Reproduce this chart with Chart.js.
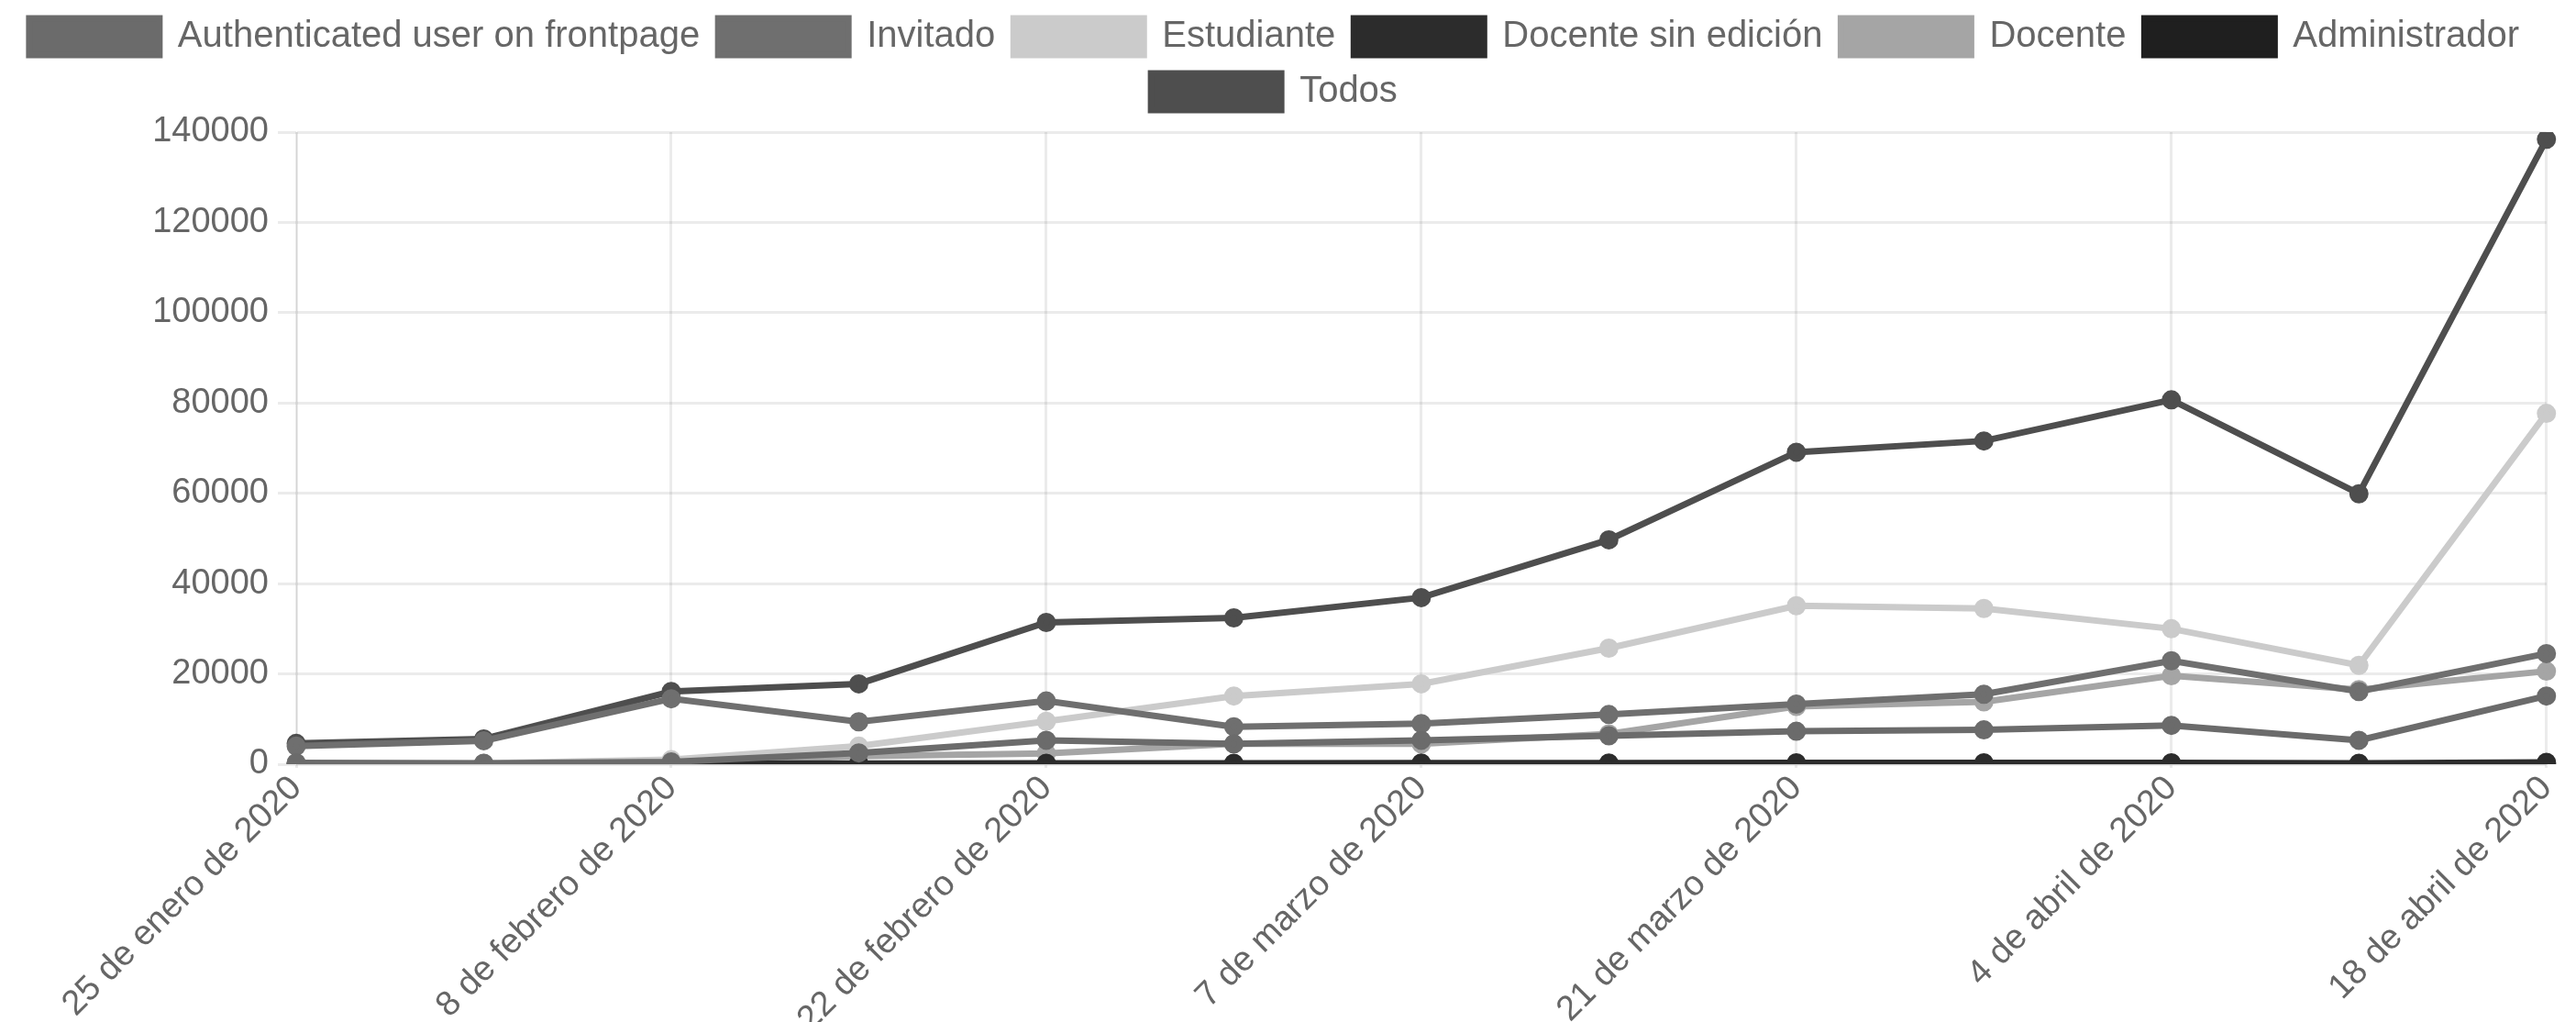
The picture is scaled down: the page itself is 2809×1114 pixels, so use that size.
<!DOCTYPE html>
<html lang="es">
<head>
    <meta charset="UTF-8">
    <title>Accesos por rol</title>
    <script src="https://cdn.jsdelivr.net/npm/chart.js"></script>
    <style>
        body { margin: 0; background: #fff; overflow: hidden; }
        #grafico { display: block; }
    </style>
</head>
<body>
    <canvas id="grafico" width="2809" height="1114"></canvas>

<script>
    // semanas (eje x)
    const fechas = [
        '25 de enero de 2020', '1 de febrero de 2020', '8 de febrero de 2020',
        '15 de febrero de 2020', '22 de febrero de 2020', '29 de febrero de 2020',
        '7 de marzo de 2020', '14 de marzo de 2020', '21 de marzo de 2020',
        '28 de marzo de 2020', '4 de abril de 2020', '11 de abril de 2020',
        '18 de abril de 2020'
    ];

    // valores
    const autenticado = [300, 200, 500, 2500, 5300, 4500, 5300, 6300, 7300, 7600, 8600, 5300, 15100];
    const invitado = [4000, 5200, 14500, 9400, 14000, 8300, 9000, 11000, 13300, 15500, 22900, 16100, 24500];
    const estudiante = [200, 200, 1000, 4000, 9500, 15100, 17800, 25700, 35100, 34500, 30000, 21900, 77700];
    const docenteSinEdicion = [100, 100, 100, 150, 200, 200, 250, 250, 300, 300, 300, 200, 400];
    const docente = [100, 100, 200, 1800, 2400, 4500, 4500, 6700, 12800, 13800, 19600, 16500, 20600];
    const administrador = [20, 20, 30, 30, 40, 40, 40, 50, 50, 50, 50, 40, 60];
    const todos = [4600, 5600, 16100, 17800, 31400, 32400, 36900, 49700, 69100, 71600, 80700, 59900, 138400];

    const ticksY = [0, 20000, 40000, 60000, 80000, 100000, 120000, 140000];

    function serie(nombre, valores, color) {
        return {
            label: nombre,
            data: valores,
            borderColor: color,
            backgroundColor: color,
            pointBackgroundColor: color,
            pointBorderColor: color,
            borderWidth: 7,
            pointRadius: 7,
            tension: 0,
            fill: false
        };
    }

    const data = {
        labels: fechas,
        datasets: [
            serie('Authenticated user on frontpage', autenticado, '#6b6b6b'),
            serie('Invitado', invitado, '#6f6f6f'),
            serie('Estudiante', estudiante, '#cbcbcb'),
            serie('Docente sin edición', docenteSinEdicion, '#2c2c2c'),
            serie('Docente', docente, '#a5a5a5'),
            serie('Administrador', administrador, '#1f1f1f'),
            serie('Todos', todos, '#4e4e4e')
        ]
    };

    Chart.defaults.font.family = '"Liberation Sans", Arial, sans-serif';
    Chart.defaults.font.size = 38;
    Chart.defaults.color = '#666';

    // un poco de aire entre la leyenda y el grafico
    const espacioLeyenda = {
        id: 'espacioLeyenda',
        beforeInit(chart) {
            const fitOriginal = chart.legend.fit;
            chart.legend.fit = function () {
                fitOriginal.bind(chart.legend)();
                this.height += 14;
            };
        }
    };

    const config = {
        type: 'line',
        data: data,
        plugins: [espacioLeyenda],
        options: {
            responsive: false,
            animation: false,
            layout: { padding: { left: 0, right: 30, top: 0, bottom: 0 } },
            plugins: {
                legend: {
                    position: 'top',
                    labels: {
                        boxWidth: 142,
                        boxHeight: 40,
                        padding: 20,
                        font: { size: 40 }
                    }
                },
                tooltip: { enabled: false }
            },
            scales: {
                x: {
                    grid: { color: 'rgba(0,0,0,0.08)', lineWidth: 3, tickLength: 4 },
                    ticks: {
                        autoSkip: false,
                        maxRotation: 45,
                        minRotation: 45,
                        padding: 0,
                        // una etiqueta de cada dos, como en el original
                        callback: function (val, i) {
                            return i % 2 ? null : this.getLabelForValue(val);
                        }
                    },
                    afterFit: function (scale) {
                        scale.height = 281;
                        scale.paddingLeft = 0;
                    }
                },
                y: {
                    min: 0,
                    max: ticksY[ticksY.length - 1],
                    grid: { color: 'rgba(0,0,0,0.08)', lineWidth: 3, tickLength: 20 },
                    ticks: {
                        stepSize: ticksY[1] - ticksY[0],
                        padding: 10,
                        callback: function (v) { return String(v); }
                    },
                    afterFit: function (scale) {
                        scale.width = 323;
                    }
                }
            }
        }
    };

    const myChart = new Chart(document.getElementById('grafico'), config);
</script>
</body>
</html>
